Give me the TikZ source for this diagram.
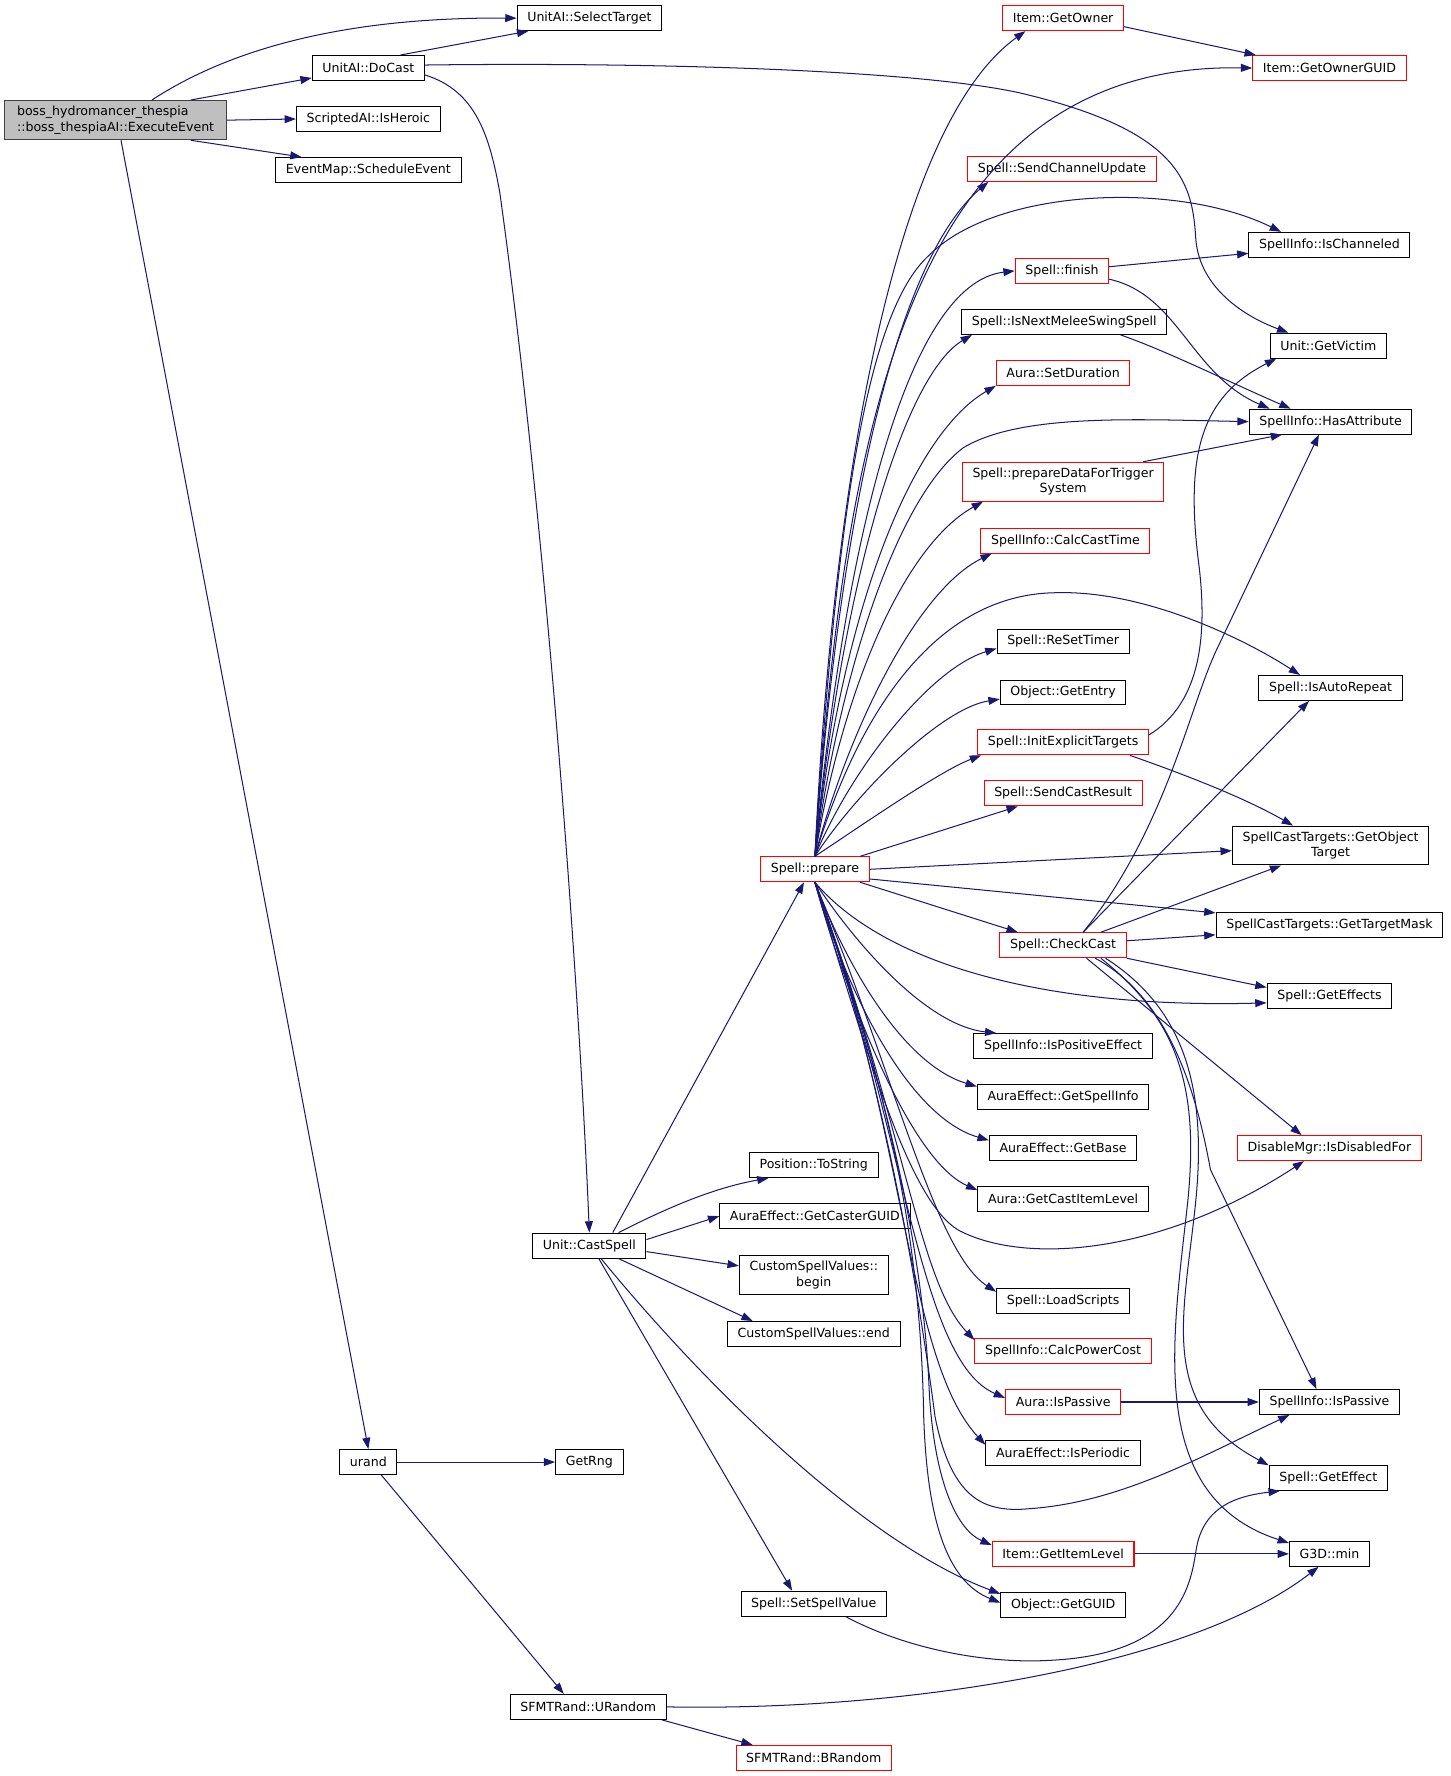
\documentclass[tikz,border=0pt]{standalone}
\usepackage{fontspec}
\setmainfont{DejaVu Sans}
\usepackage{tikz}
\usetikzlibrary{arrows.meta}
\definecolor{edgeblue}{HTML}{191970}
\definecolor{boxgray}{HTML}{BFBFBF}
\definecolor{boxred}{HTML}{FF0000}

\begin{document}
\begin{tikzpicture}[x=1pt,y=-1pt,
  fn/.style={draw=black, fill=white, line width=0.9pt, minimum height=22pt,
    inner xsep=9pt, inner ysep=5pt, align=center,
    font=\fontsize{11.1}{13.6}\selectfont},
  fnred/.style={fn, draw=boxred},
  fnmain/.style={fn, fill=boxgray, draw=black!75, align=left, inner xsep=11pt},
  call/.style={draw=edgeblue, line width=0.9pt, -{Triangle[length=10pt,width=7pt]}}]
\useasboundingbox (0,0) rectangle (1280,1567);
% draws functions, left part
\node[fnmain] (main) at (102,106) {boss\_hydromancer\_thespia\\::boss\_thespiaAI::ExecuteEvent};
\node[fn] (sel) at (520,16) {UnitAI::SelectTarget};
\node[fn] (docast) at (325,60) {UnitAI::DoCast};
\node[fn] (heroic) at (325,105) {ScriptedAI::IsHeroic};
\node[fn] (sched) at (325,150) {EventMap::ScheduleEvent};
\node[fn] (urand) at (325,1290) {urand};
\node[fn] (rng) at (520,1290) {GetRng};
\node[fn] (urnd) at (519,1506) {SFMTRand::URandom};
\node[fnred] (brnd) at (718,1551) {SFMTRand::BRandom};
\node[fn] (cast) at (520,1099) {Unit::CastSpell};
\node[fn] (tostr) at (718,1028) {Position::ToString};
\node[fn] (caster) at (719,1073) {AuraEffect::GetCasterGUID};
\node[fn] (cbegin) at (718,1125) {CustomSpellValues::\\begin};
\node[fn] (cend) at (718,1177) {CustomSpellValues::end};
\node[fn] (setval) at (718,1415) {Spell::SetSpellValue};
\node[fnred] (prep) at (719,767) {Spell::prepare};
% draws functions, middle column
\node[fnred] (owner) at (938,16) {Item::GetOwner};
\node[fnred] (chan) at (937,149) {Spell::SendChannelUpdate};
\node[fnred] (finish) at (937,239) {Spell::finish};
\node[fn] (melee) at (939,284) {Spell::IsNextMeleeSwingSpell};
\node[fnred] (setdur) at (938,329) {Aura::SetDuration};
\node[fnred] (trig) at (938,425) {Spell::prepareDataForTrigger\\System};
\node[fnred] (casttime) at (940,477) {SpellInfo::CalcCastTime};
\node[fn] (reset) at (938,566) {Spell::ReSetTimer};
\node[fn] (entry) at (938,611) {Object::GetEntry};
\node[fnred] (init) at (938,655) {Spell::InitExplicitTargets};
\node[fnred] (result) at (938,700) {Spell::SendCastResult};
\node[fnred] (check) at (938,834) {Spell::CheckCast};
\node[fn] (posfx) at (938,923) {SpellInfo::IsPositiveEffect};
\node[fn] (fxinfo) at (938,968) {AuraEffect::GetSpellInfo};
\node[fn] (fxbase) at (938,1013) {AuraEffect::GetBase};
\node[fn] (auralvl) at (938,1058) {Aura::GetCastItemLevel};
\node[fn] (load) at (938,1148) {Spell::LoadScripts};
\node[fnred] (power) at (938,1192) {SpellInfo::CalcPowerCost};
\node[fnred] (apass) at (938,1237) {Aura::IsPassive};
\node[fn] (period) at (938,1282) {AuraEffect::IsPeriodic};
\node[fnred] (getlvl) at (938,1371) {Item::GetItemLevel};
\node[fn] (guid) at (938,1416) {Object::GetGUID};
% draws functions, right column
\node[fnred] (ownguid) at (1173,60) {Item::GetOwnerGUID};
\node[fn] (ischan) at (1173,216) {SpellInfo::IsChanneled};
\node[fn] (victim) at (1172,305) {Unit::GetVictim};
\node[fn] (hasattr) at (1174,372) {SpellInfo::HasAttribute};
\node[fn] (autorep) at (1174,607) {Spell::IsAutoRepeat};
\node[fn] (objtgt) at (1174,746) {SpellCastTargets::GetObject\\Target};
\node[fn] (tmask) at (1173,816) {SpellCastTargets::GetTargetMask};
\node[fn] (effects) at (1173,879) {Spell::GetEffects};
\node[fnred] (disabled) at (1173,1013) {DisableMgr::IsDisabledFor};
\node[fn] (spass) at (1173,1237) {SpellInfo::IsPassive};
\node[fn] (effect) at (1172,1304) {Spell::GetEffect};
\node[fn] (gmin) at (1173,1371) {G3D::min};
% draws calls of the event handler
\draw[call] (main.29) .. controls (200,45) and (300,15) .. (sel.west);
\draw[call] (main.15) to (docast.190);
\draw[call] (main.east) to (heroic.west);
\draw[call] (main.-15) to (sched.169);
\draw[call] (main.-75) to (urand.north);
\draw[call] (docast.22) to (sel.192);
\draw[call] (docast.3) .. controls (550,55) and (800,60) .. (900,82)
  .. controls (1040,115) and (1052,160) .. (1055,210)
  .. controls (1058,255) and (1100,280) .. (victim.162);
\draw[call] (docast.-7) .. controls (420,80) and (432,120) .. (441,170)
  .. controls (480,450) and (510,850) .. (cast.north);
\draw[call] (urand.east) to (rng.west);
\draw[call] (urand.-45) to (urnd.152);
\draw[call] (urnd.-10) to (brnd.168);
\draw[call] (urnd.east) .. controls (800,1510) and (1050,1470) .. (gmin.230);
% draws calls of Unit::CastSpell
\draw[call] (cast.29) to (prep.230);
\draw[call] (cast.24) .. controls (590,1065) and (630,1048) .. (tostr.196);
\draw[call] (cast.6) to (caster.west);
\draw[call] (cast.-6) to (cbegin.173);
\draw[call] (cast.-24) to (cend.168);
\draw[call] (cast.-54) to (setval.149);
\draw[call] (cast.-48) .. controls (620,1220) and (760,1360) .. (guid.170);
\draw[call] (setval.-22) .. controls (800,1455) and (870,1468) .. (925,1465)
  .. controls (1040,1460) and (1050,1400) .. (1055,1370)
  .. controls (1060,1330) and (1090,1320) .. (effect.195);
% draws calls of Spell::prepare, upwards
\draw[call] (prep.north) .. controls (735,420) and (790,110) .. (owner.199);
\draw[call] (prep.north) .. controls (745,380) and (800,55) .. (ownguid.west);
\draw[call] (prep.north) .. controls (740,460) and (790,230) .. (chan.190);
\draw[call] (prep.north) .. controls (740,420) and (770,270) .. (820,225)
  .. controls (880,165) and (1040,160) .. (ischan.165);
\draw[call] (prep.north) .. controls (745,480) and (800,250) .. (finish.west);
\draw[call] (prep.north) .. controls (745,500) and (800,330) .. (melee.188);
\draw[call] (prep.north) .. controls (745,520) and (810,380) .. (setdur.south west);
\draw[call] (prep.north) .. controls (740,600) and (790,440) .. (850,395)
  .. controls (900,365) and (1000,370) .. (hasattr.west);
\draw[call] (prep.north) .. controls (745,600) and (800,480) .. (trig.194);
\draw[call] (prep.north) .. controls (750,640) and (810,520) .. (casttime.190);
\draw[call] (prep.north) .. controls (760,620) and (830,525) .. (930,523)
  .. controls (1010,520) and (1100,565) .. (autorep.157);
\draw[call] (prep.north) .. controls (750,680) and (820,590) .. (reset.186);
\draw[call] (prep.north) .. controls (755,700) and (830,625) .. (entry.186);
\draw[call] (prep.north) .. controls (765,725) and (830,680) .. (init.189);
\draw[call] (prep.16) to (result.196);
\draw[call] (prep.east) to (objtgt.183);
\draw[call] (prep.-10) to (tmask.174);
\draw[call] (prep.-16) to (check.164);
% draws calls of Spell::prepare, downwards
\draw[call] (prep.south) .. controls (780,850) and (920,890) .. (effects.186);
\draw[call] (prep.south) .. controls (760,840) and (820,905) .. (posfx.169);
\draw[call] (prep.south) .. controls (750,860) and (800,940) .. (fxinfo.173);
\draw[call] (prep.south) .. controls (745,870) and (800,985) .. (fxbase.174);
\draw[call] (prep.south) .. controls (750,890) and (805,1025) .. (auralvl.174);
\draw[call] (prep.south) .. controls (770,950) and (805,1060) .. (845,1085)
  .. controls (900,1115) and (1020,1110) .. (disabled.207);
\draw[call] (prep.south) .. controls (790,950) and (825,1105) .. (load.172);
\draw[call] (prep.south) .. controls (800,1000) and (810,1130) .. (power.173);
\draw[call] (prep.south) .. controls (800,1000) and (810,1200) .. (apass.176);
\draw[call] (prep.south) .. controls (800,1000) and (800,1200) .. (period.174);
\draw[call] (prep.south) .. controls (780,950) and (812,1150) .. (825,1250)
  .. controls (840,1325) and (870,1335) .. (910,1331)
  .. controls (990,1325) and (1060,1285) .. (spass.198);
\draw[call] (prep.south) .. controls (780,950) and (815,1100) .. (820,1230)
  .. controls (825,1310) and (845,1350) .. (getlvl.173);
\draw[call] (prep.south) .. controls (780,950) and (812,1080) .. (815,1250)
  .. controls (818,1340) and (835,1395) .. (guid.178);
% draws the remaining calls
\draw[call] (owner.-8) to (ownguid.170);
\draw[call] (finish.5) to (ischan.186);
\draw[call] (finish.-10) .. controls (1040,260) and (1050,330) .. (hasattr.168);
\draw[call] (melee.-13) .. controls (1030,310) and (1080,335) .. (hasattr.162);
\draw[call] (trig.14) to (hasattr.195);
\draw[call] (init.5) .. controls (1060,620) and (1065,560) .. (1058,500)
  .. controls (1045,400) and (1060,350) .. (victim.194);
\draw[call] (init.-11) .. controls (1050,685) and (1100,705) .. (objtgt.152);
\draw[call] (check.33) .. controls (1030,730) and (1050,620) .. (1075,570) -- (hasattr.228);
\draw[call] (check.33) to (autorep.211);
\draw[call] (check.19) to (objtgt.202);
\draw[call] (check.4) to (tmask.185);
\draw[call] (check.south east) to (effects.172);
\draw[call] (check.-29) to (disabled.155);
\draw[call] (check.-22) .. controls (1030,880) and (1055,960) .. (1068,1032) -- (spass.135);
\draw[call] (check.-17) .. controls (1045,890) and (1065,960) .. (1055,1060)
  .. controls (1045,1160) and (1020,1240) .. (effect.168);
\draw[call] (check.-19) .. controls (1040,900) and (1058,960) .. (1048,1060)
  .. controls (1035,1180) and (1010,1320) .. (gmin.165);
\draw[call] (apass.east) to (spass.west);
\draw[call] (getlvl.east) to (gmin.west);
\end{tikzpicture}
\end{document}
